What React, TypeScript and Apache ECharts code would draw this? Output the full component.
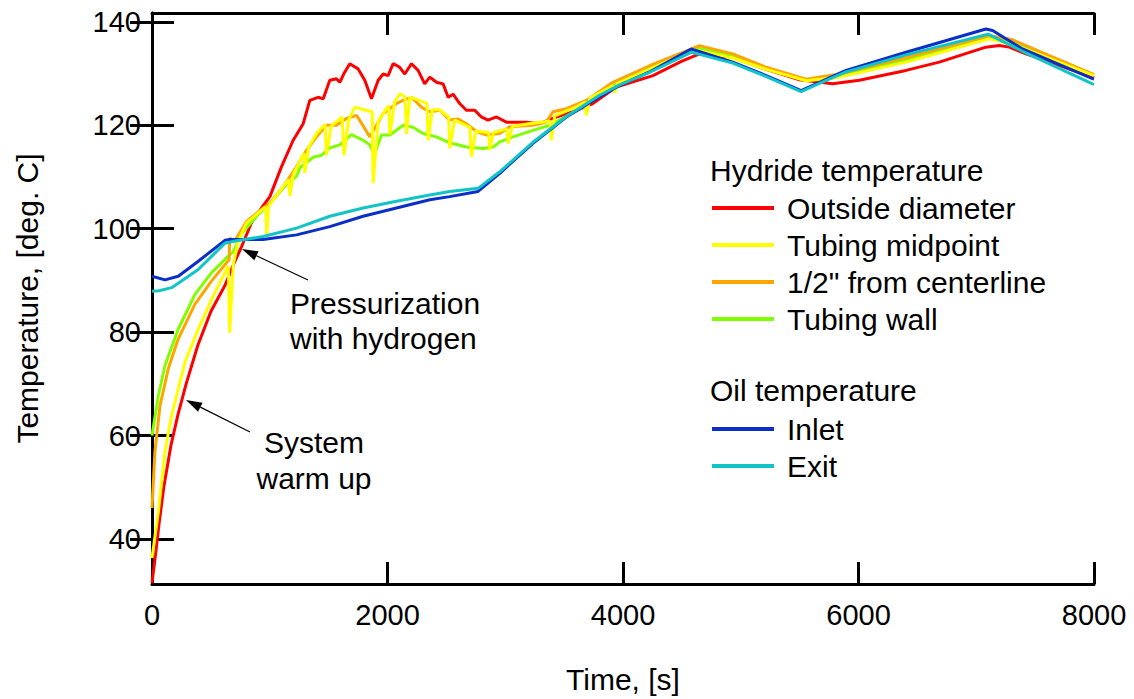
import React, { useEffect, useRef } from 'react';
import * as echarts from 'echarts';

const FONT = 'Liberation Sans, Arial, Helvetica, sans-serif';

const timeTicks = [0, 2000, 4000, 6000, 8000];
const tempTicks = [40, 60, 80, 100, 120, 140];

const seriesNames = ['Outside diameter', 'Tubing midpoint', '1/2" from centerline', 'Tubing wall', 'Inlet', 'Exit'];
const seriesColors = ['#ff0000', '#ffff00', '#ffa500', '#80ff00', '#0a2ec8', '#12c4c8'];

// Hydride temperature, outside diameter [time s, temp C]
const outsideDiameter: [number, number][] = [
  [0, 31.5], [30, 37], [60, 43], [100, 50], [160, 58], [220, 64], [290, 70], [390, 77.5], [500, 84],
  [619, 89], [700, 93.5], [760, 96.5], [846, 101.2], [930, 104], [1001, 106.2], [1100, 112],
  [1199, 117.1], [1284, 120.3], [1340, 124.8], [1411, 125.4], [1454, 125.1], [1510, 128.7], [1567, 129],
  [1595, 128.3], [1630, 130], [1680, 131.9], [1750, 130.9], [1807, 128.7], [1864, 125.1], [1921, 128.7],
  [1963, 129.9], [2005, 129.6], [2048, 131.9], [2104, 131.2], [2147, 129.9], [2204, 131.9], [2260, 130.6],
  [2316, 128], [2359, 129.3], [2416, 128.3], [2472, 128], [2515, 125.4], [2557, 126], [2613, 124.2],
  [2670, 122.9], [2741, 122.9], [2797, 121.6], [2854, 121], [2925, 121.6], [3010, 120.6], [3179, 120.6],
  [3292, 120.3], [3434, 121.6], [3575, 122.6], [3744, 124.2], [3943, 127.4], [4254, 129.6], [4500, 132.4],
  [4650, 133.8], [4932, 133.1], [5216, 130.8], [5500, 128.8], [5780, 128], [6007, 128.7], [6403, 130.6],
  [6686, 132.2], [7082, 135.1], [7195, 135.4], [7280, 135.1], [7422, 133.8], [7987, 129.3], [8000, 129.2],
];

// Hydride temperature, tubing midpoint
const tubingMidpoint: [number, number][] = [
  [0, 36.3], [54, 45.3], [110, 56.9], [167, 63.9], [280, 74.2], [393, 80.6], [506, 86.3], [619, 91.5],
  [648, 92.8], [660, 79.9], [690, 93], [730, 97.5], [803, 101.1], [900, 103], [965, 104.2], [975, 98.8],
  [990, 104.3], [1060, 106.5], [1160, 109.5], [1171, 106.3], [1200, 110.5], [1290, 114.6], [1298, 110.8],
  [1330, 115.8], [1400, 118.5], [1470, 120.2], [1482, 114.2], [1520, 119.8], [1615, 121.6], [1630, 114.2],
  [1670, 121], [1722, 123.5], [1800, 123], [1870, 122.6], [1878, 108.8], [1920, 120.8], [2010, 123.8],
  [2020, 118.2], [2060, 124.5], [2104, 126.1], [2150, 125.5], [2161, 118.3], [2190, 125.4], [2250, 125],
  [2335, 124.2], [2345, 117.1], [2380, 123], [2440, 123], [2520, 121.6], [2528, 115.5], [2570, 121],
  [2700, 119.6], [2712, 113.9], [2750, 118.9], [2860, 118.6], [2868, 115.2], [2900, 118.6], [3015, 119.3],
  [3024, 116.5], [3060, 119.8], [3200, 120.3], [3380, 120.8], [3391, 117.1], [3420, 121.8], [3600, 123.5],
  [3680, 124.5], [3688, 121.9], [3720, 125.3], [3914, 127.6], [3930, 126.3], [3950, 128], [4225, 130.8],
  [4600, 134.6], [4877, 133.3], [4890, 132.5], [4905, 133.2], [5216, 130.8], [5555, 128.6], [5838, 129.3],
  [6404, 132.2], [7110, 136.7], [7300, 135.7], [8000, 129.6],
];

// Hydride temperature, 1/2" from centerline
const halfInchFromCenter: [number, number][] = [
  [0, 46], [25, 56.9], [68, 65.8], [138, 72.9], [223, 78.7], [365, 85.4], [506, 89.9], [633, 93.4],
  [655, 94], [660, 98.2], [700, 97.5], [803, 101.4], [944, 104], [1001, 104.9], [1114, 108.1], [1228, 112],
  [1313, 115.2], [1397, 117.75], [1482, 120], [1567, 120], [1652, 121.3], [1737, 121.9], [1790, 120],
  [1850, 117.75], [1963, 122.25], [2020, 123.2], [2076, 124.2], [2133, 124.8], [2204, 125.4], [2288, 123.5],
  [2359, 122.6], [2444, 122.9], [2528, 121], [2600, 121.2], [2670, 120.3], [2755, 118.8], [2840, 118.1],
  [2953, 118.4], [3038, 119.7], [3235, 120], [3349, 120.6], [3405, 122.6], [3519, 123.2], [3688, 124.8],
  [3914, 128.3], [4225, 131.5], [4650, 135.4], [4932, 133.8], [5216, 131.2], [5555, 128.9], [5838, 129.9],
  [6404, 133.1], [7110, 137.3], [7300, 136.6], [8000, 129.8],
];

// Hydride temperature, tubing wall
const tubingWall: [number, number][] = [
  [0, 60], [54, 67.75], [110, 73.5], [223, 80.6], [365, 87.3], [506, 91.5], [648, 94.7], [690, 95.5],
  [760, 99], [888, 102.4], [960, 104], [1029, 105.6], [1143, 108.6], [1228, 110.1], [1256, 111.8],
  [1369, 113.8], [1440, 114.2], [1510, 115.6], [1595, 116.2], [1694, 118.2], [1793, 117.1], [1850, 116.2],
  [1890, 114.4], [1949, 118.1], [2020, 118.1], [2133, 120], [2217, 119.6], [2302, 118.4], [2416, 117.75],
  [2528, 116.6], [2670, 115.8], [2811, 115.5], [2900, 115.8], [2953, 116.8], [3066, 117.75], [3235, 119],
  [3377, 120], [3660, 123.5], [3914, 127.6], [4225, 131], [4620, 135], [4932, 133.5], [5216, 130.9],
  [5555, 128.7], [5838, 129.6], [6404, 132.7], [7110, 137], [7300, 136.3], [8000, 129.7],
];

// Oil temperature, inlet
const oilInlet: [number, number][] = [
  [0, 90.8], [110, 90.1], [223, 90.8], [393, 93.7], [619, 97.75], [662, 97.9], [944, 97.9], [1228, 98.8],
  [1510, 100.4], [1793, 102.4], [2076, 104], [2359, 105.6], [2528, 106.2], [2769, 107.2], [2953, 110.7],
  [3235, 116.5], [3519, 121.6], [3801, 125.5], [3971, 127.7], [4225, 130.3], [4579, 134.75], [4932, 132.2],
  [5216, 129.6], [5513, 126.7], [5668, 128.3], [5894, 130.6], [6404, 134.1], [7082, 138.6], [7139, 138.3],
  [7393, 134.75], [7987, 129], [8000, 128.9],
];

// Oil temperature, exit
const oilExit: [number, number][] = [
  [0, 87.9], [60, 88], [167, 88.6], [393, 92.1], [619, 97.2], [704, 97.6], [944, 98.5], [1228, 100.1],
  [1510, 102.4], [1793, 104], [2076, 105.3], [2359, 106.5], [2528, 107.2], [2769, 107.8], [2953, 111],
  [3235, 116.7], [3519, 121.7], [3801, 125.8], [3971, 127.8], [4225, 130.2], [4579, 134.1], [4650, 133.7],
  [4932, 132], [5216, 129.4], [5513, 126.5], [5668, 128.1], [5894, 130.3], [6404, 133.6], [7100, 137.6],
  [7393, 134.3], [7987, 128], [8000, 127.9],
];

const seriesData = [outsideDiameter, tubingMidpoint, halfInchFromCenter, tubingWall, oilInlet, oilExit];
const drawOrder = [0, 3, 2, 1, 4, 5];

function arrow(x1: number, y1: number, x2: number, y2: number) {
  const dx = x2 - x1, dy = y2 - y1;
  const len = Math.sqrt(dx * dx + dy * dy);
  const ux = dx / len, uy = dy / len;
  const hl = 16, hw = 5;
  const bx = x2 - ux * hl, by = y2 - uy * hl;
  return [
    { type: 'line', shape: { x1, y1, x2: bx, y2: by }, style: { stroke: '#000', lineWidth: 1.2 } },
    {
      type: 'polygon',
      shape: { points: [[x2, y2], [bx - uy * hw, by + ux * hw], [bx + uy * hw, by - ux * hw]] },
      style: { fill: '#000' },
    },
  ];
}

export default function App() {
  const ref = useRef<HTMLDivElement>(null);
  useEffect(() => {
    const chart = echarts.init(ref.current!, null, { renderer: 'svg' });
    const axisCommon = {
      axisLine: { show: true, lineStyle: { color: '#000', width: 3 } },
      axisTick: { show: true, inside: true, length: 22, lineStyle: { color: '#000', width: 3 } },
      splitLine: { show: false },
    };
    const plain = (v: number) => String(v);
    chart.setOption({
      animation: false,
      backgroundColor: '#fff',
      textStyle: { fontFamily: FONT },
      grid: { left: 152, top: 13, width: 942, height: 574, containLabel: false },
      xAxis: [
        {
          type: 'value', position: 'bottom', min: 0, max: 8000, interval: 2000,
          ...axisCommon,
          axisLabel: { show: true, fontSize: 29, color: '#000', margin: 16, fontFamily: FONT,
            customValues: timeTicks, formatter: plain },
          axisTick: { ...axisCommon.axisTick, customValues: timeTicks },
          name: 'Time, [s]', nameLocation: 'middle', nameGap: 80,
          nameTextStyle: { fontSize: 30, color: '#000', fontFamily: FONT },
        },
        {
          type: 'value', position: 'top', min: 0, max: 8000, interval: 2000,
          ...axisCommon,
          axisTick: { ...axisCommon.axisTick, customValues: timeTicks },
          axisLabel: { show: false },
        },
      ],
      yAxis: [
        {
          type: 'value', position: 'left', min: 31.3, max: 141.7,
          ...axisCommon,
          axisTick: { ...axisCommon.axisTick, customValues: tempTicks },
          axisLabel: { show: true, fontSize: 29, color: '#000', margin: 11, fontFamily: FONT,
            customValues: tempTicks, formatter: plain },
          name: 'Temperature, [deg. C]', nameLocation: 'middle', nameGap: 110,
          nameTextStyle: { fontSize: 30, color: '#000', fontFamily: FONT },
        },
        {
          type: 'value', position: 'right', min: 31.3, max: 141.7,
          ...axisCommon,
          axisTick: { ...axisCommon.axisTick, customValues: tempTicks },
          axisLabel: { show: false },
        },
      ],
      legend: [
        {
          data: seriesNames.slice(0, 4), orient: 'vertical', left: 712, top: 193, padding: 0,
          itemWidth: 62, itemHeight: 4, itemGap: 7, icon: 'rect', selectedMode: false,
          textStyle: { fontSize: 30, color: '#000', fontFamily: FONT, lineHeight: 30, padding: [0, 0, 0, 8] },
        },
        {
          data: seriesNames.slice(4), orient: 'vertical', left: 712, top: 414, padding: 0,
          itemWidth: 62, itemHeight: 4, itemGap: 7, icon: 'rect', selectedMode: false,
          textStyle: { fontSize: 30, color: '#000', fontFamily: FONT, lineHeight: 30, padding: [0, 0, 0, 8] },
        },
      ],
      graphic: [
        { type: 'text', left: 710, top: 155, style: { text: 'Hydride temperature', fontSize: 30, fill: '#000', fontFamily: FONT } },
        { type: 'text', left: 710, top: 375, style: { text: 'Oil temperature', fontSize: 30, fill: '#000', fontFamily: FONT } },
        { type: 'text', left: 290, top: 286, style: { text: 'Pressurization\nwith hydrogen', fontSize: 30, lineHeight: 35, fill: '#000', fontFamily: FONT } },
        { type: 'text', x: 314, y: 424, style: { text: 'System\nwarm up', fontSize: 30, lineHeight: 36, fill: '#000', fontFamily: FONT, align: 'center' } },
        ...arrow(308, 280, 242, 249),
        ...arrow(250, 432, 186, 400),
      ],
      series: drawOrder.map((i) => ({
        name: seriesNames[i],
        type: 'line',
        xAxisIndex: 0,
        yAxisIndex: 0,
        data: seriesData[i],
        showSymbol: false,
        symbol: 'none',
        color: seriesColors[i],
        lineStyle: { color: seriesColors[i], width: 3 },
        clip: true,
      })),
    });
    return () => chart.dispose();
  }, []);
  return (
    <div
      ref={ref}
      style={{ position: 'fixed', left: 0, top: 0, width: 1134, height: 699, background: '#fff' }}
    />
  );
}
